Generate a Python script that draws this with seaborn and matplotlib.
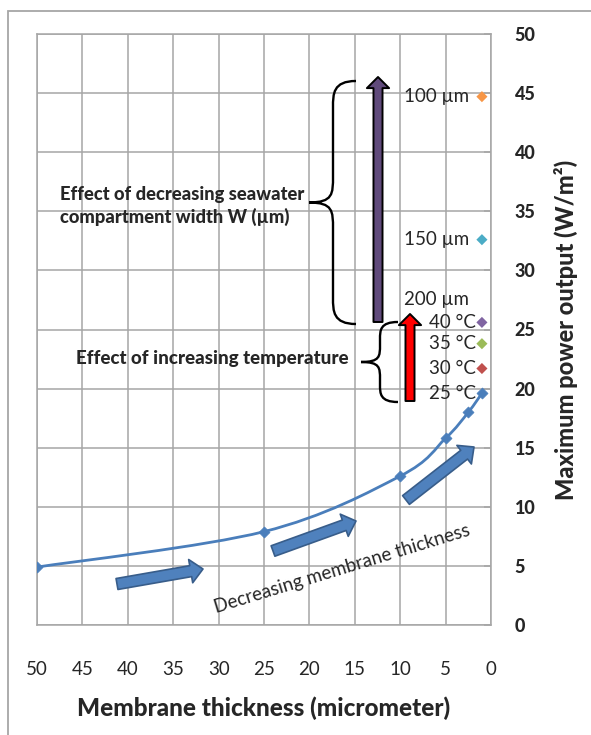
import numpy as np
import matplotlib
matplotlib.use("Agg")
import matplotlib.pyplot as plt
from matplotlib import font_manager
from matplotlib.path import Path
from matplotlib.patches import PathPatch, FancyArrowPatch, Rectangle
import seaborn as sns

# Data
thickness = [50, 25, 10, 5, 2.5, 1]            # micrometer
power = [4.9, 7.9, 12.6, 15.8, 18.0, 19.6]     # W/m2 (25 C, W = 200 um)

temp_labels = ["40 °C", "35 °C", "30 °C"]
temp_power = [25.6, 23.8, 21.7]
temp_colors = ["#8064A2", "#9BBB59", "#C0504D"]

width_labels = ["100 µm", "150 µm"]
width_power = [44.7, 32.6]
width_colors = ["#F79646", "#4BACC6"]

x_ticks = list(range(0, 55, 5))
y_ticks = list(range(0, 55, 5))

sns.set_style("white")
plt.rcParams['font.family'] = ['Lato', 'DejaVu Sans']

# heaviest face Lato offers (Calibri bold look)
lato_weights = [f.weight for f in font_manager.fontManager.ttflist
                if f.name == "Lato" and f.style == "normal"]
heavy = max([w for w in lato_weights if isinstance(w, int)] + [700])
BOLD = dict(family=['Lato', 'DejaVu Sans'], fontweight=heavy)

W, H = 591, 735
fig = plt.figure(figsize=(W / 100, H / 100), dpi=100)
ax = fig.add_axes([37 / W, 1 - 625 / H, (491 - 37) / W, (625 - 34) / H])

# chart area border
fig.patches.append(Rectangle((8 / W, -0.1), 1.2, 1 - 11 / H + 0.1,
                             transform=fig.transFigure, fill=False,
                             edgecolor="#a6a6a6", linewidth=1.3, zorder=0))

ax.set_xlim(50, 0)
ax.set_ylim(0, 50)
ax.set_xticks(x_ticks)
ax.set_yticks(y_ticks, labels=[str(v) for v in y_ticks], **BOLD)
ax.yaxis.tick_right()
ax.yaxis.set_label_position("right")
ax.grid(True, color="#a6a6a6", linewidth=1.1)
ax.set_axisbelow(True)
for s in ax.spines.values():
    s.set_color("#a6a6a6")
    s.set_linewidth(1.1)
ax.tick_params(axis="x", direction="out", length=6, width=1.1, color="#a6a6a6",
               labelsize=13.5, pad=20)
ax.tick_params(axis="y", direction="in", length=5, width=1.1, color="#a6a6a6",
               labelsize=13, pad=17, right=True, left=False)
ax.set_xlabel("Membrane thickness (micrometer)", fontsize=17.5, labelpad=13, **BOLD)
ax.set_ylabel("Maximum power output (W/m²)", fontsize=17, labelpad=13, **BOLD)

# smoothed series line (Catmull-Rom as Bezier, like Excel's smoothed line)
pts = np.column_stack([thickness, power])
ext = np.vstack([pts[0], pts, pts[-1]])
verts = [tuple(pts[0])]
codes = [Path.MOVETO]
for i in range(1, len(ext) - 2):
    p0, p1, p2, p3 = ext[i - 1], ext[i], ext[i + 1], ext[i + 2]
    c1 = p1 + (p2 - p0) / 6
    c2 = p2 - (p3 - p1) / 6
    verts += [tuple(c1), tuple(c2), tuple(p2)]
    codes += [Path.CURVE4] * 3
ax.add_patch(PathPatch(Path(verts, codes), fill=False, edgecolor="#4A7EBB",
                       linewidth=2.0, zorder=3))
sns.scatterplot(x=thickness, y=power, marker="D", s=32, color="#4A7EBB",
                edgecolor="#4A7EBB", ax=ax, zorder=4)

# temperature and compartment width points
sns.scatterplot(x=[1] * len(temp_power), y=temp_power, marker="D", s=32,
                hue=temp_labels, palette=temp_colors, edgecolor="none",
                legend=False, ax=ax, zorder=4)
sns.scatterplot(x=[1] * len(width_power), y=width_power, marker="D", s=32,
                hue=width_labels, palette=width_colors, edgecolor="none",
                legend=False, ax=ax, zorder=4)

for lab, yv in zip(temp_labels + ["25 °C"], temp_power + [power[-1]]):
    ax.annotate(lab, (1, yv), xytext=(-4, 0), textcoords="offset points",
                ha="right", va="center", fontsize=13.5)
for lab, yv in zip(width_labels, width_power):
    ax.annotate(lab, (1, yv), xytext=(-9, 0), textcoords="offset points",
                ha="right", va="center", fontsize=13.5)
ax.text(2.4, 27.5, "200 µm", ha="right", va="center", fontsize=13.5)


def to_data(px, py):
    return ((491 - px) / 9.08, (625 - py) / 11.82)


def brace(x_tip, x_body, x_point, y_top, y_bot, r):
    # vertical "{" in pixel coordinates, converted to data
    ym = (y_top + y_bot) / 2
    p = [(x_tip, y_top), (x_body, y_top), (x_body, y_top + r / 2), (x_body, y_top + r),
         (x_body, ym - r), (x_body, ym - r / 3), (x_body, ym), (x_point, ym),
         (x_body, ym), (x_body, ym + r / 3), (x_body, ym + r),
         (x_body, y_bot - r), (x_body, y_bot - r / 2), (x_body, y_bot), (x_tip, y_bot)]
    c = [Path.MOVETO, Path.CURVE4, Path.CURVE4, Path.CURVE4,
         Path.LINETO, Path.CURVE4, Path.CURVE4, Path.CURVE4,
         Path.CURVE4, Path.CURVE4, Path.CURVE4,
         Path.LINETO, Path.CURVE4, Path.CURVE4, Path.CURVE4]
    ax.add_patch(PathPatch(Path([to_data(*q) for q in p], c), fill=False,
                           edgecolor="black", linewidth=1.7, zorder=5))


brace(356, 333, 309, 81, 324, 26)
brace(398, 380, 361, 322, 402, 17)


def block_arrow(p1, p2, face, edge, tw, hw, hl, lw=1.2):
    a = FancyArrowPatch(to_data(*p1), to_data(*p2),
                        arrowstyle=f"simple,tail_width={tw},head_width={hw},head_length={hl}",
                        facecolor=face, edgecolor=edge, linewidth=lw,
                        shrinkA=0, shrinkB=0, zorder=6)
    ax.add_patch(a)


block_arrow((378, 322), (378, 77), "#604A7B", "black", 6.5, 16, 8, 1.4)
block_arrow((410, 401), (410, 314), "#FF0000", "black", 6.5, 16, 8, 1.4)
block_arrow((117, 584), (203, 569), "#4F81BD", "#385D8A", 8, 17, 9)
block_arrow((273, 551), (356, 521), "#4F81BD", "#385D8A", 8, 17, 9)
block_arrow((406, 500), (474, 447), "#4F81BD", "#385D8A", 8, 17, 9)

ax.text(*to_data(60, 206), "Effect of decreasing seawater\ncompartment width W (µm)",
        ha="left", va="center", fontsize=13.2, linespacing=1.3, **BOLD)
ax.text(*to_data(349, 359), "Effect of increasing temperature", ha="right",
        va="center", fontsize=13.5, **BOLD)
ax.text(*to_data(342, 569), "Decreasing membrane thickness", ha="center",
        va="center", fontsize=13.5, rotation=17, rotation_mode="anchor")

fig.savefig("out.png", dpi=100)
